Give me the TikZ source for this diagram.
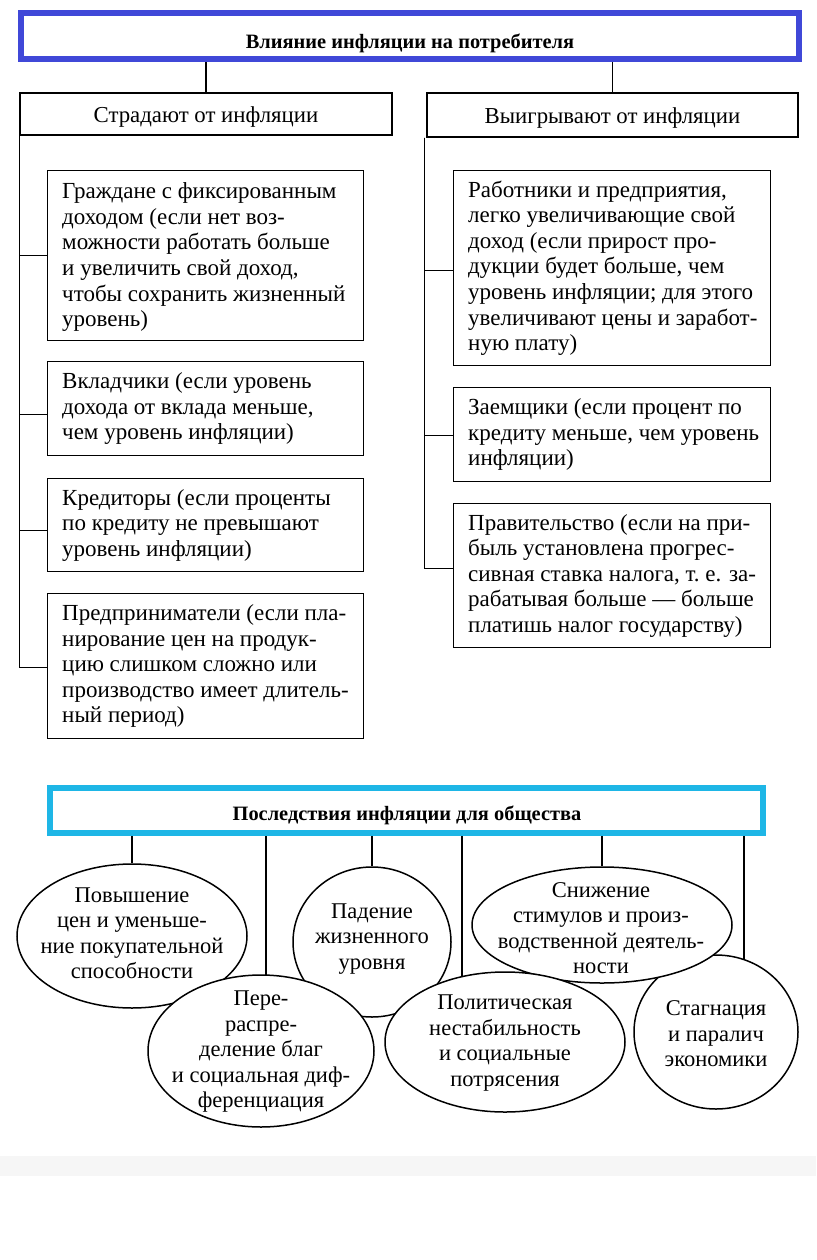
\documentclass[tikz,border=0pt]{standalone}
\usepackage{fontspec}
\setmainfont{Liberation Serif}
\usetikzlibrary{shapes.geometric}
\pgfdeclarelayer{bg}
\pgfsetlayers{bg,main}
\definecolor{hdrblue}{RGB}{64,72,216}
\definecolor{hdrcyan}{RGB}{30,182,230}
\definecolor{band}{RGB}{246,246,246}
\tikzset{
 frame/.style={draw, line width=6pt, inner sep=0pt, fill=white},
 hdrtext/.style={font=\fontsize{20.4}{24}\selectfont\bfseries, inner sep=0pt},
 subbox/.style={draw, line width=1.4pt, inner sep=0pt},
 subtext/.style={font=\fontsize{22.8}{25.5}\selectfont, inner sep=0pt},
 itembox/.style={draw, line width=1.4pt, inner sep=0pt, anchor=north west},
 itemtext/.style={font=\fontsize{23}{25.6}\selectfont, align=left, inner sep=0pt, anchor=west},
 conn/.style={line width=1.2pt},
 oval/.style={draw, ellipse, line width=1.5pt, fill=white, inner sep=0pt},
 ovaltext/.style={font=\fontsize{22.5}{25.5}\selectfont, align=center, inner sep=0pt},
}
\begin{document}
\begin{tikzpicture}[x=1pt,y=-1pt]
\begin{pgfonlayer}{bg}
\path[fill=white] (0,0) rectangle (816,1260);
\fill[band] (0,1156) rectangle (816,1176);
\end{pgfonlayer}
\useasboundingbox (0,0) rectangle (816,1260);
% top header
\node[frame, draw=hdrblue, minimum width=778pt, minimum height=46pt] (h1) at (410,36) {};
\node[hdrtext] (h1t) at (410,43) {Влияние инфляции на потребителя};
\node[subbox, minimum width=372pt, minimum height=42pt] (s1) at (206,114) {};
\node[subtext] (s1t) at (206,117) {Страдают от инфляции};
\node[subbox, minimum width=371pt, minimum height=44pt] (s2) at (612.5,115) {};
\node[subtext] (s2t) at (612.5,118) {Выигрывают от инфляции};
% left items
\node[itembox, minimum width=316pt, minimum height=170pt] (l1) at (47,170) {};
\node[itemtext] (l1t) at ([xshift=15pt,yshift=-1.5pt]l1.west) {Граждане с фиксированным\\доходом (если нет воз-\\можности работать больше\\и увеличить свой доход,\\чтобы сохранить жизненный\\уровень)};
\node[itembox, minimum width=316pt, minimum height=94pt] (l2) at (47,361) {};
\node[itemtext] (l2t) at ([xshift=15pt]l2.west) {Вкладчики (если уровень\\дохода от вклада меньше,\\чем уровень инфляции)};
\node[itembox, minimum width=316pt, minimum height=93pt] (l3) at (47,478) {};
\node[itemtext] (l3t) at ([xshift=15pt]l3.west) {Кредиторы (если проценты\\по кредиту не превышают\\уровень инфляции)};
\node[itembox, minimum width=316pt, minimum height=145pt] (l4) at (47,593) {};
\node[itemtext] (l4t) at ([xshift=15pt]l4.west) {Предприниматели (если пла-\\нирование цен на продук-\\цию слишком сложно или\\производство имеет длитель-\\ный период)};
% right items
\node[itembox, minimum width=317pt, minimum height=195pt] (r1) at (453,170) {};
\node[itemtext] (r1t) at ([xshift=15pt]r1.west) {Работники и предприятия,\\легко увеличивающие свой\\доход (если прирост про-\\дукции будет больше, чем\\уровень инфляции; для этого\\увеличивают цены и заработ-\\ную плату)};
\node[itembox, minimum width=317pt, minimum height=94pt] (r2) at (453,387) {};
\node[itemtext] (r2t) at ([xshift=15pt]r2.west) {Заемщики (если процент по\\кредиту меньше, чем уровень\\инфляции)};
\node[itembox, minimum width=317pt, minimum height=144pt] (r3) at (453,503) {};
\node[itemtext] (r3t) at ([xshift=15pt]r3.west) {Правительство (если на при-\\быль установлена прогрес-\\сивная ставка налога, т.~е. за-\\рабатывая больше~--- больше\\платишь налог государству)};
% bottom header
\node[frame, draw=hdrcyan, minimum width=713pt, minimum height=45pt] (h2) at (406.5,810.5) {};
\node[hdrtext] (h2t) at (407,815) {Последствия инфляции для общества};
\coordinate (b2) at (266,833);
\coordinate (b4) at (462,833);
\coordinate (b6) at (744,833);
% ellipses
\node[oval, minimum width=230pt, minimum height=144pt] (e1) at (132,936) {};
\node[ovaltext] (e1t) at (132,933) {Повышение\\цен и уменьше-\\ние покупательной\\способности};
\node[oval, minimum width=158pt, minimum height=150pt] (e2) at (372,942) {};
\node[ovaltext] (e2t) at (372,939) {Падение\\жизненного\\уровня};
\node[oval, minimum width=164pt, minimum height=154pt] (e4) at (716,1032) {};
\node[ovaltext] (e4t) at (716,1034) {Стагнация\\и паралич\\экономики};
\node[oval, minimum width=260pt, minimum height=116pt] (e3) at (602,925) {};
\node[ovaltext] (e3t) at (601,928) {Снижение\\стимулов и произ-\\водственной деятель-\\ности};
\node[oval, minimum width=226pt, minimum height=152pt] (e5) at (261,1051) {};
\node[ovaltext] (e5t) at (261,1052) {Пере-\\распре-\\деление благ\\и социальная диф-\\ференциация};
\node[oval, minimum width=240pt, minimum height=140pt] (e6) at (505,1042) {};
\node[ovaltext] (e6t) at (505,1043) {Политическая\\нестабильность\\и социальные\\потрясения};
% connectors
\begin{pgfonlayer}{bg}
\draw[conn] (s1.north) -- (s1.north |- h1.south);
\draw[conn] (s2.north) -- (s2.north |- h1.south);
\draw[conn] (s1.south west) |- (l1.west);
\draw[conn] (s1.south west) |- ([yshift=-5.5pt]l2.west);
\draw[conn] (s1.south west) |- ([yshift=-5.5pt]l3.west);
\draw[conn] (s1.south west) |- ([yshift=-1.5pt]l4.west);
\draw[conn] ([xshift=-2pt]s2.south west) |- ([yshift=-2.5pt]r1.west);
\draw[conn] ([xshift=-2pt]s2.south west) |- ([yshift=-1pt]r2.west);
\draw[conn] ([xshift=-2pt]s2.south west) |- ([yshift=7pt]r3.west);
\draw[conn] (e1 |- h2.south) -- (e1);
\draw[conn] (e2 |- h2.south) -- (e2);
\draw[conn] (e3 |- h2.south) -- (e3);
\draw[conn] (b2) -- (b2 |- e5);
\draw[conn] (b4) -- (b4 |- e6);
\draw[conn] (b6) -- (b6 |- e4);
\end{pgfonlayer}
\end{tikzpicture}
\end{document}
